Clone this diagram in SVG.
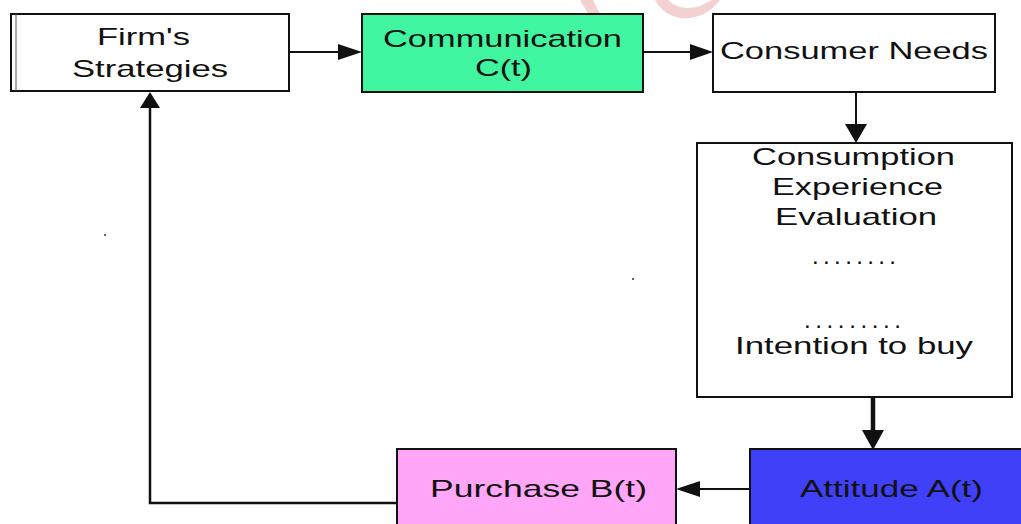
<svg xmlns="http://www.w3.org/2000/svg" width="1021" height="524" viewBox="0 0 1021 524">
  <style>
    .box { stroke: #111; stroke-width: 2; }
    .lbl { font-family: "Liberation Sans", Arial, sans-serif; font-size: 24px; fill: #111; text-anchor: start; }
    .wire { fill: none; stroke: #111; stroke-width: 2; }
    .wire.thick { stroke-width: 4.5; }
    .wire.loop { stroke-width: 2.5; }
    .head { fill: #111; }
  </style>

  <rect width="1021" height="524" fill="#ffffff"/>

  <!-- faint pink mark along the top edge -->
  <g fill="#f2c6c6" opacity="0.8">
    <path d="M580 0 L593 0 L606 26 L598 30 Z"/>
    <path d="M655 0 L668 0 Q680 12 700 6 L712 0 L720 0 Q705 20 680 18 Q662 14 655 0 Z"/>
  </g>

  <!-- connectors -->
  <g id="connectors">
    <line class="wire" x1="289" y1="52" x2="340" y2="52"/>
    <polygon class="head" points="362,52 338,44 338,60"/>

    <line class="wire" x1="643" y1="52" x2="692" y2="52"/>
    <polygon class="head" points="713,52 690,44 690,60"/>

    <line class="wire" x1="856" y1="92" x2="856" y2="126"/>
    <polygon class="head" points="856,143 845,124 867,124"/>

    <line class="wire thick" x1="873" y1="397" x2="873" y2="433"/>
    <polygon class="head" points="873,450 862,430 884,430"/>

    <line class="wire" x1="750" y1="489" x2="698" y2="489"/>
    <polygon class="head" points="676,489 700,481 700,497"/>

    <polyline class="wire loop" points="397,503 150,503 150,106"/>
    <polygon class="head" points="150,92 140,108 160,108"/>
  </g>

  <!-- Firm's Strategies -->
  <g id="firm-strategies">
    <rect class="box" x="11" y="14" width="278" height="77" fill="#ffffff"/>
    <line x1="16" y1="14" x2="16" y2="91" stroke="#555" stroke-width="1"/>
    <text class="lbl" x="97" y="45" textLength="93" lengthAdjust="spacingAndGlyphs">Firm's</text>
    <text class="lbl" x="72" y="77" textLength="156" lengthAdjust="spacingAndGlyphs">Strategies</text>
  </g>

  <!-- Communication C(t) -->
  <g id="communication">
    <rect class="box" x="362" y="14" width="281" height="78" fill="#40f5a0"/>
    <text class="lbl" x="383" y="47" textLength="239" lengthAdjust="spacingAndGlyphs">Communication</text>
    <text class="lbl" x="475" y="76" textLength="57" lengthAdjust="spacingAndGlyphs">C(t)</text>
  </g>

  <!-- Consumer Needs -->
  <g id="consumer-needs">
    <rect class="box" x="713" y="14" width="282" height="78" fill="#ffffff"/>
    <text class="lbl" x="720" y="59" textLength="268" lengthAdjust="spacingAndGlyphs">Consumer Needs</text>
  </g>

  <!-- Consumption Experience Evaluation ... Intention to buy -->
  <g id="consumption-experience">
    <rect class="box" x="697" y="143" width="315" height="254" fill="#ffffff"/>
    <text class="lbl" x="752" y="165" textLength="203" lengthAdjust="spacingAndGlyphs">Consumption</text>
    <text class="lbl" x="772" y="195" textLength="171" lengthAdjust="spacingAndGlyphs">Experience</text>
    <text class="lbl" x="775" y="225" textLength="162" lengthAdjust="spacingAndGlyphs">Evaluation</text>
    <text class="lbl" x="812" y="264" font-size="14" textLength="84" lengthAdjust="spacing">........</text>
    <text class="lbl" x="804" y="328" font-size="14" textLength="97" lengthAdjust="spacing">.........</text>
    <text class="lbl" x="735" y="354" textLength="238" lengthAdjust="spacingAndGlyphs">Intention to buy</text>
  </g>

  <!-- Purchase B(t) -->
  <g id="purchase">
    <rect class="box" x="397" y="449" width="279" height="80" fill="#ffa6f8"/>
    <text class="lbl" x="430" y="497" textLength="217" lengthAdjust="spacingAndGlyphs">Purchase B(t)</text>
  </g>

  <!-- Attitude A(t) -->
  <g id="attitude">
    <rect class="box" x="750" y="449" width="280" height="80" fill="#4040f8"/>
    <text class="lbl" x="800" y="497" textLength="183" lengthAdjust="spacingAndGlyphs">Attitude A(t)</text>
  </g>

  <!-- stray specks -->
  <circle cx="105" cy="235" r="1" fill="#333"/>
  <circle cx="633" cy="279" r="1" fill="#333"/>
</svg>
